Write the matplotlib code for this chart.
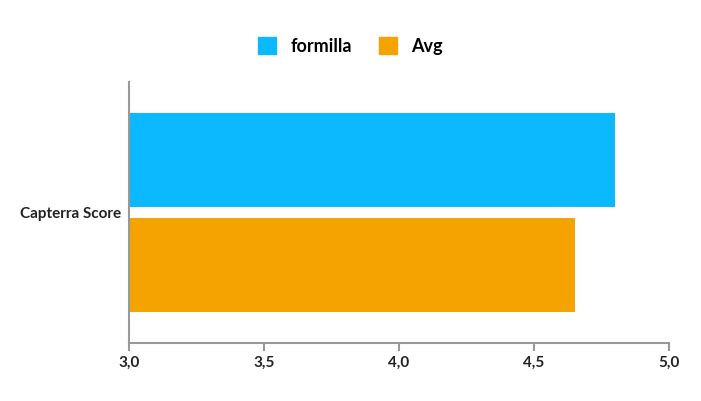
import matplotlib
matplotlib.use("Agg")
import matplotlib.pyplot as plt
from matplotlib.patches import Patch

categories = ["Capterra Score"]
series_names = ["formilla", "Avg"]
formilla_vals = [4.8]
avg_vals = [4.65]
xticks = [3.0, 3.5, 4.0, 4.5, 5.0]
xtick_labels = ["3,0", "3,5", "4,0", "4,5", "5,0"]

plt.rcParams["font.family"] = "Lato"
fig = plt.figure(figsize=(7.01, 4.01), dpi=100)
ax = fig.add_axes([129/701, 58/401, 540/701, 261/401])
colors = ["#0cb9ff", "#f5a300"]
ax.barh([0.2], [v - 3.0 for v in formilla_vals], left=3.0, height=0.36, color=colors[0])
ax.barh([-0.2], [v - 3.0 for v in avg_vals], left=3.0, height=0.36, color=colors[1])
ax.set_xlim(3.0, 5.0)
ax.set_ylim(-0.5, 0.5)
ax.set_xticks(xticks)
ax.set_xticklabels(xtick_labels, fontsize=11, fontweight="bold", color="#222222")
ax.set_yticks([0])
ax.set_yticklabels(categories, fontsize=11, fontweight="bold", color="#222222")
ax.tick_params(axis="y", length=0, pad=6)
ax.tick_params(axis="x", length=6, color="#999999", width=1.5)
for s in ["top", "right"]:
    ax.spines[s].set_visible(False)
for s in ["left", "bottom"]:
    ax.spines[s].set_color("#999999")
    ax.spines[s].set_linewidth(1.5)
handles = [Patch(color=c) for c in colors]
fig.legend(handles, series_names, loc="center", bbox_to_anchor=(0.5, 0.885), ncol=2,
           frameon=False, prop={"size": 13, "weight": "bold"}, handlelength=1.0,
           handleheight=1.0, columnspacing=1.5)
fig.savefig("out.png", dpi=100)
